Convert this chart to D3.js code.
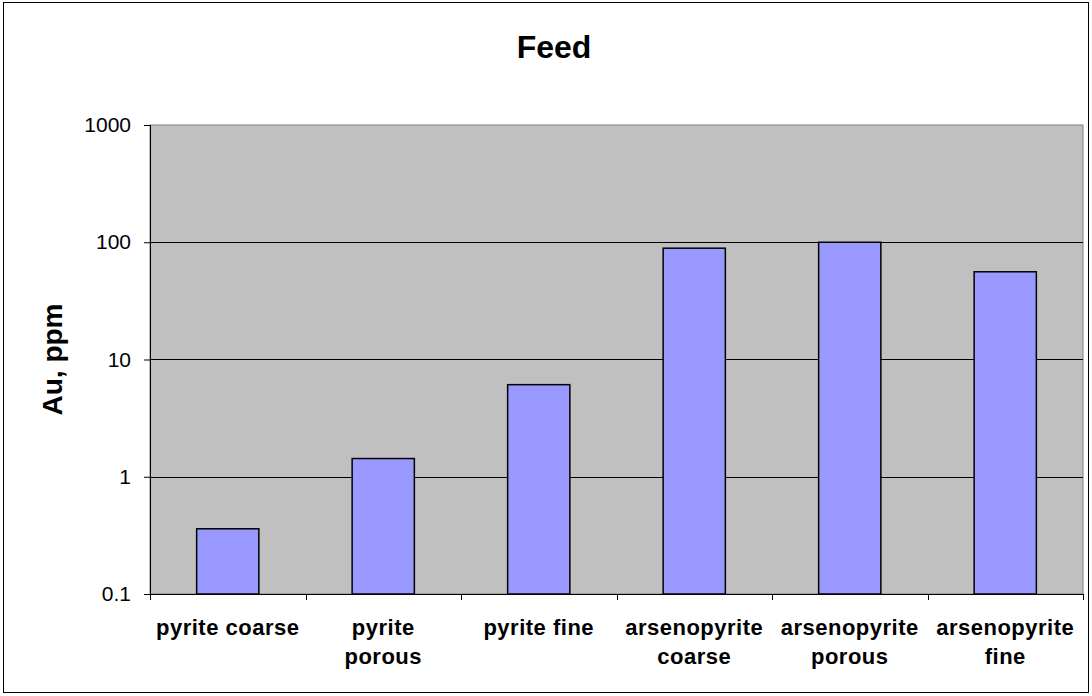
<!DOCTYPE html>
<html>
<head>
<meta charset="utf-8">
<script src="https://cdn.jsdelivr.net/npm/d3@7"></script>
<style>
  body { margin: 0; background: #fff; }
  svg { display: block; font-family: "Liberation Sans", Arial, sans-serif; }
</style>
</head>
<body>
<svg id="chart" width="1092" height="696"></svg>
<script>
// values
const categories = [
    ["pyrite coarse"],
    ["pyrite", "porous"],
    ["pyrite fine"],
    ["arsenopyrite", "coarse"],
    ["arsenopyrite", "porous"],
    ["arsenopyrite", "fine"]
];
const auPpm = [0.36, 1.43, 6.1, 89, 100, 56];
const yTicks = [0.1, 1, 10, 100, 1000];

const svg = d3.select("#chart");
const margin = {top: 125, right: 9, bottom: 102, left: 150};
const width = +svg.attr("width"), height = +svg.attr("height");

// outer chart border
svg.append("rect")
    .attr("x", 3.5).attr("y", 2.5)
    .attr("width", width - 7).attr("height", height - 6)
    .attr("fill", "#fff").attr("stroke", "#000").attr("stroke-width", 1);

const keys = categories.map(c => c.join(" "));

const x = d3.scaleBand()
    .domain(keys)
    .range([margin.left, width - margin.right])
    .paddingInner(0.6).paddingOuter(0.3);

const y = d3.scaleLog()
    .domain([0.1, 1000])
    .range([height - margin.bottom, margin.top]);

// plot area
svg.append("rect")
    .attr("x", margin.left).attr("y", margin.top)
    .attr("width", width - margin.right - margin.left)
    .attr("height", height - margin.bottom - margin.top)
    .attr("fill", "#c0c0c0").attr("stroke", "#808080");

// grid lines
svg.append("g")
    .selectAll("line")
    .data(yTicks.slice(1, -1))
    .join("line")
    .attr("x1", margin.left).attr("x2", width - margin.right)
    .attr("y1", d => Math.round(y(d)) + 0.5).attr("y2", d => Math.round(y(d)) + 0.5)
    .attr("stroke", "#000");

// bars
svg.append("g")
    .selectAll("rect")
    .data(auPpm)
    .join("rect")
    .attr("x", (d, i) => x(keys[i]))
    .attr("width", x.bandwidth())
    .attr("y", d => y(d))
    .attr("height", d => y(0.1) - y(d))
    .attr("fill", "#9999ff")
    .attr("stroke", "#000").attr("stroke-width", 1.5);

// y axis
const yAxis = svg.append("g")
    .attr("transform", `translate(${margin.left},0)`)
    .call(d3.axisLeft(y).tickValues(yTicks).tickFormat(d => String(d)).tickSize(6).tickSizeOuter(0));
yAxis.selectAll("text")
    .attr("font-size", 21).attr("fill", "#000")
    .attr("x", -19);
yAxis.selectAll("line, path").attr("stroke", "#000");
yAxis.select(".domain").attr("d", `M0.5,${margin.top}V${height - margin.bottom}`);

// x axis with ticks between categories
const xBase = height - margin.bottom;
const xAxis = svg.append("g");
xAxis.append("line")
    .attr("x1", margin.left).attr("x2", width - margin.right)
    .attr("y1", xBase + 0.5).attr("y2", xBase + 0.5)
    .attr("stroke", "#000");
xAxis.selectAll(".tick")
    .data(d3.range(keys.length + 1))
    .join("line")
    .attr("x1", i => Math.round(margin.left + i * x.step()) + 0.5)
    .attr("x2", i => Math.round(margin.left + i * x.step()) + 0.5)
    .attr("y1", xBase).attr("y2", xBase + 6)
    .attr("stroke", "#000");

svg.append("g")
    .selectAll("text")
    .data(categories)
    .join("text")
    .attr("x", (d, i) => x(keys[i]) + x.bandwidth() / 2)
    .attr("y", xBase + 41)
    .attr("text-anchor", "middle")
    .attr("font-size", 22).attr("font-weight", "bold")
    .attr("letter-spacing", 0.5)
    .selectAll("tspan")
    .data(d => d)
    .join("tspan")
    .attr("x", function() { return this.parentNode.getAttribute("x"); })
    .attr("dy", (d, i) => i === 0 ? 0 : 29)
    .text(d => d);

// title
svg.append("text")
    .attr("x", 554).attr("y", 58)
    .attr("text-anchor", "middle")
    .attr("font-size", 32).attr("font-weight", "bold")
    .text("Feed");

// y label
svg.append("text")
    .attr("transform", `translate(62,${(margin.top + xBase) / 2}) rotate(-90)`)
    .attr("text-anchor", "middle")
    .attr("font-size", 28).attr("font-weight", "bold")
    .text("Au, ppm");
</script>
</body>
</html>
